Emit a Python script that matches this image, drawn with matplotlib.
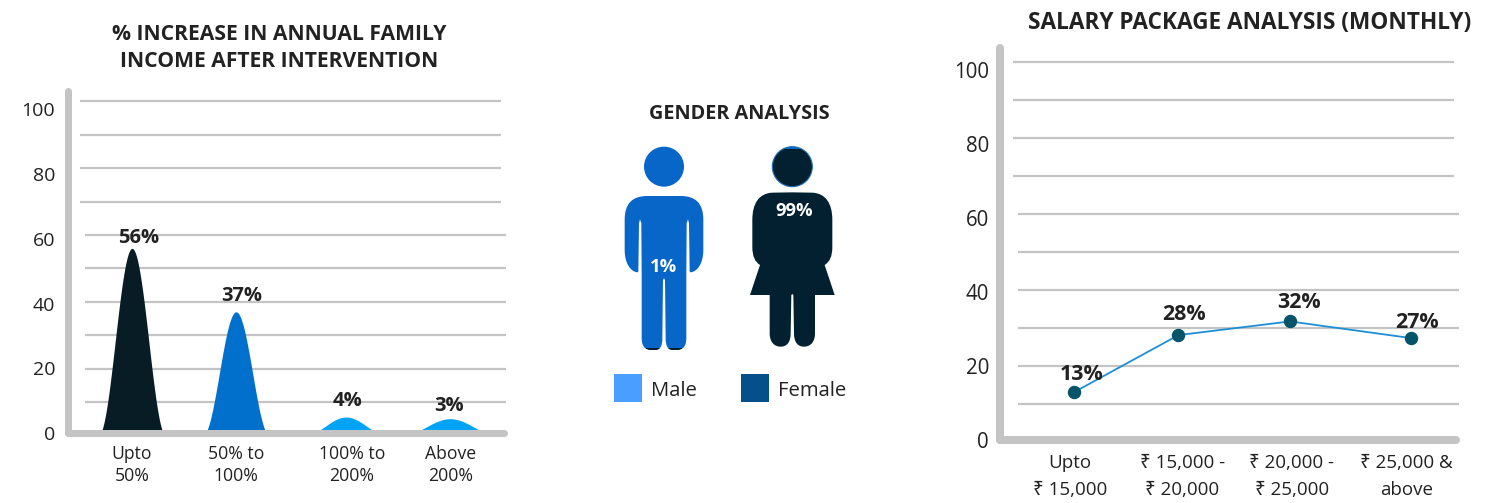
import numpy as np
import matplotlib
matplotlib.use("Agg")
import matplotlib.pyplot as plt
from matplotlib.path import Path
from matplotlib.patches import PathPatch, Circle, Rectangle

plt.rcParams['font.family'] = ['Open Sans', 'Noto Sans', 'DejaVu Sans']

# ---------- data ----------
income_title = "% INCREASE IN ANNUAL FAMILY\nINCOME AFTER INTERVENTION"
income_cats = ["Upto\n50%", "50% to\n100%", "100% to\n200%", "Above\n200%"]
income_heights = [56, 37, 5.5, 5]
income_labels = ["56%", "37%", "4%", "3%"]

gender_title = "GENDER ANALYSIS"
gender_names = ["Male", "Female"]
gender_share = [1, 99]
gender_labels = ["1%", "99%"]

salary_title = "SALARY PACKAGE ANALYSIS (MONTHLY)"
salary_cats = ["Upto\n₹ 15,000", "₹ 15,000 -\n₹ 20,000", "₹ 20,000 -\n₹ 25,000", "₹ 25,000 &\nabove"]
salary_values = [12.9, 28, 31.6, 27.2]
salary_labels = ["13%", "28%", "32%", "27%"]

y_ticks = [0, 20, 40, 60, 80, 100]
grid_values = [10, 20, 30, 40, 50, 60, 70, 80, 90, 100]

# ---------- style ----------
W, H = 1498, 503
GREY = "#C4C4C4"
TEXT = "#222222"
BELL_COLORS = ["#071C25", "#0070CC", "#00A3F5", "#00A3F5"]
PX = 0.72  # points per pixel at dpi 100

fig = plt.figure(figsize=(W / 100, H / 100), dpi=100, facecolor="white")


def make_axes(left, right, top, bottom):
    return fig.add_axes([left / W, 1 - bottom / H, (right - left) / W, (bottom - top) / H])


def chart_frame(box, zero_px, px_per_unit, label_zero_px, label_px_per_unit,
                grid_spans, tick_size, pad_left, axis_px):
    left, right, top, bottom = box
    ax = make_axes(left, right, top, bottom)
    ax.set_ylim((zero_px - bottom) / px_per_unit, (zero_px - top) / px_per_unit)
    ax.patch.set_visible(False)
    for s in ("top", "right"):
        ax.spines[s].set_visible(False)
    for s in ("left", "bottom"):
        ax.spines[s].set_color(GREY)
        ax.spines[s].set_linewidth(axis_px * PX)
        ax.spines[s].set_capstyle("round")
        ax.spines[s].set_zorder(2.5)
    ax.set_yticks([])
    trans = ax.get_yaxis_transform()
    for v in grid_values:
        a, b = grid_spans[0] if v >= 70 else grid_spans[1]
        ax.hlines(v, (a - left) / (right - left), (b - left) / (right - left),
                  transform=trans, color=GREY, lw=2.2 * PX, zorder=1, clip_on=False)
    # value labels sit on their own, slightly tighter scale than the gridlines
    lab = ax.twinx()
    lab.yaxis.tick_left()
    lab.set_ylim((label_zero_px - bottom) / label_px_per_unit, (label_zero_px - top) / label_px_per_unit)
    lab.set_yticks(y_ticks)
    lab.tick_params(axis="y", length=0, pad=pad_left * PX, labelsize=tick_size, labelcolor=TEXT)
    lab.patch.set_visible(False)
    for s in lab.spines.values():
        s.set_visible(False)
    return ax


# ---------- left: bell chart ----------
ax1 = chart_frame((68, 504, 91, 433), 435.4, 3.34, 437.5, 3.28, [(80, 501), (85, 506)], 14, 13, 7)
ax1.set_xlim((68 - 132) / 106, (504 - 132) / 106)
bell_centers = [0, 0.981, 2.019, 3.0]
bell_half_widths = [0.318, 0.315, 0.39, 0.45]
income_tick_pos = [0, 0.981, 2.075, 3.01]
income_offsets = [(7, 10), (6, 15.5), (1, 16.5), (-1, 13)]
for c, hw, h, col in zip(bell_centers, bell_half_widths, income_heights, BELL_COLORS):
    xs = np.linspace(-hw, hw, 121)
    ax1.fill_between(c + xs, 0, h * 0.5 * (1 + np.cos(np.pi * xs / hw)), color=col, lw=0, zorder=2)
for c, h, t, (dx, dy) in zip(bell_centers, income_heights, income_labels, income_offsets):
    ax1.annotate(t, (c, h), xytext=(dx * PX, dy * PX), textcoords="offset points", ha="center",
                 va="center", fontsize=14.5, fontweight="bold", color=TEXT, zorder=5)
ax1.set_xticks(income_tick_pos, income_cats)
ax1.tick_params(axis="x", length=0, pad=12 * PX, labelsize=12.7, labelcolor=TEXT)
for lab_txt in ax1.get_xticklabels():
    lab_txt.set_linespacing(1.3)

# ---------- right: line chart ----------
ax3 = chart_frame((1000, 1456, 48, 440), 441.5, 3.8, 443.5, 3.73, [(1013, 1454), (1018, 1459)], 14.8, 11, 8)
ax3.set_xlim((1000 - 1073.5) / 113, (1456 - 1073.5) / 113)
salary_x = [0, 0.929, 1.916, 2.991]
salary_tick_pos = [-0.03, 0.965, 1.93, 2.95]
salary_offsets = [(8, 18), (6, 21), (8.5, 19), (6, 16)]
ax3.plot(salary_x, salary_values, color="#1E8FD5", lw=1.3, marker="o", ms=12 * PX,
         mfc="#06546A", mec="#06546A", zorder=3)
for x, v, t, (dx, dy) in zip(salary_x, salary_values, salary_labels, salary_offsets):
    ax3.annotate(t, (x, v), xytext=(dx * PX, dy * PX), textcoords="offset points", ha="center",
                 va="center", fontsize=15.4, fontweight="bold", color=TEXT, zorder=5)
ax3.set_xticks(salary_tick_pos, salary_cats)
ax3.tick_params(axis="x", length=0, pad=13.5 * PX, labelsize=13.5, labelcolor=TEXT)
for lab_txt in ax3.get_xticklabels():
    lab_txt.set_linespacing(1.65)

# ---------- overlay in pixel space: titles and icons ----------
ov = fig.add_axes([0, 0, 1, 1])
ov.set_xlim(0, W)
ov.set_ylim(H, 0)
ov.axis("off")
ov.patch.set_visible(False)


def title(x, y, s, size, spacing=1.2):
    ov.text(x, y, s, ha="center", va="center", fontsize=size, fontweight="bold", color=TEXT, linespacing=spacing)


title(279, 48, income_title, 15.2, 1.4)
title(739, 114, gender_title, 14.35)
title(1250, 23, salary_title, 16.25)


def mirrored(half, cx, scale=3.0, ox=590, oy=90):
    """half: left side of an icon in crop units, from top centre to crotch."""
    verts, codes = [half[0]], [Path.MOVETO]
    segs = half[1:]
    for seg in segs:
        if len(seg) == 1:
            verts.append(seg[0]); codes.append(Path.LINETO)
        else:
            verts.extend(seg); codes.extend([Path.CURVE4] * 3)
    ends = [half[0]] + [s[-1] for s in segs]
    for i in range(len(segs) - 1, -1, -1):
        seg = segs[i]
        start = ends[i]
        if len(seg) == 1:
            verts.append((-start[0], start[1])); codes.append(Path.LINETO)
        else:
            verts.extend([(-seg[1][0], seg[1][1]), (-seg[0][0], seg[0][1]), (-start[0], start[1])])
            codes.extend([Path.CURVE4] * 3)
    verts.append(half[0]); codes.append(Path.CLOSEPOLY)
    return Path([((x + cx) / scale + ox, y / scale + oy) for x, y in verts], codes)


male_half = [
    (0, 318), [(-50, 318)], [(-95, 318), (-118, 340), (-118, 390)], [(-118, 480)],
    [(-118, 520), (-100, 545), (-80, 547)], [(-77, 545)], [(-75, 400)], [(-72, 388)], [(-68, 400)],
    [(-67, 550)], [(-67, 745)], [(-67, 770), (-55, 780), (-40, 780)], [(-25, 780)],
    [(-10, 780), (-5, 765), (-5, 745)], [(-3, 570)], [(0, 565)],
]
female_half = [
    (0, 307), [(-60, 308)], [(-100, 310), (-120, 340), (-120, 390)], [(-120, 470)],
    [(-120, 500), (-112, 515), (-97, 525)], [(-127, 615)], [(-68, 615)], [(-68, 730)],
    [(-68, 755), (-55, 770), (-35, 770)], [(-15, 770), (-5, 755), (-5, 730)], [(-3, 615)], [(0, 612)],
]

BLUE = "#0866C9"
NAVY = "#02202F"
icons = [(male_half, 222, 230, 172, 780), (female_half, 607, 230, 170, 770)]
for (half, cx, cy, top, bot), share in zip(icons, gender_share):
    body = mirrored(half, cx)
    head_xy = (cx / 3 + 590, cy / 3 + 90)
    y_top, y_bot = top / 3 + 90, bot / 3 + 90
    fill_from = y_bot - (y_bot - y_top) * share / 100
    for col, rect_top, rect_h in [(BLUE, y_top - 2, fill_from - y_top + 2), (NAVY, fill_from, y_bot - fill_from + 2)]:
        for make in (lambda: PathPatch(body, fc=col, ec="none"),
                     lambda: Circle(head_xy, 20, fc=col, ec="none")):
            p = make()
            ov.add_patch(p)
            p.set_clip_path(Rectangle((500, rect_top), 400, rect_h, transform=ov.transData))

ov.add_patch(Circle((607 / 3 + 590, 230 / 3 + 90), 20, fc="none", ec="#1F6FB2", lw=0.8))

label_xy = [(664, 266.5), (794, 211.5)]
for (x, y), t in zip(label_xy, gender_labels):
    ov.text(x, y, t, ha="center", va="center", color="white", fontweight="bold", fontsize=13.2)

legend_x = [614.3, 740.7]
legend_colors = ["#4A9EFF", "#05508B"]
for x, name, col in zip(legend_x, gender_names, legend_colors):
    ov.add_patch(Rectangle((x, 374), 28, 27.7, fc=col, ec="none"))
    ov.text(x + 37, 390.5, name, ha="left", va="center", fontsize=14.6, color=TEXT)

fig.savefig("out.png", dpi=100, facecolor="white")
